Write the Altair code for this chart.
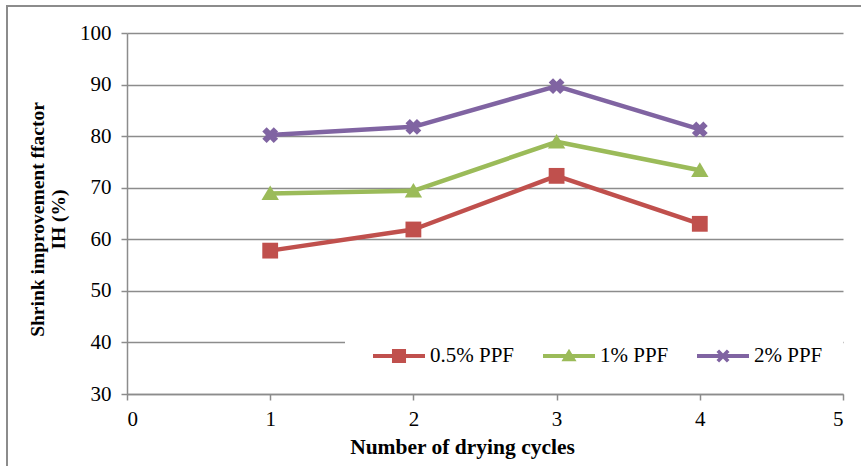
import altair as alt
import pandas as pd

# Shrink improvement factor IH (%) per drying cycle, one list per fibre dosage
cycles = [1, 2, 3, 4]
ppf_05 = [57.8, 61.9, 72.3, 63.0]
ppf_1 = [68.9, 69.4, 78.9, 73.4]
ppf_2 = [80.2, 81.8, 89.7, 81.3]

series_names = ["0.5% PPF", "1% PPF", "2% PPF"]
series_colors = ["#C0504D", "#9BBB59", "#8064A2"]
x_ticks = [0, 1, 2, 3, 4, 5]
y_ticks = [30, 40, 50, 60, 70, 80, 90, 100]

rows = []
for name, vals in zip(series_names, [ppf_05, ppf_1, ppf_2]):
    for c, v in zip(cycles, vals):
        rows.append({"cycle": c, "ih": v, "series": name})
df = pd.DataFrame(rows)

FONT = "Liberation Serif"

# marker glyphs (unit square -1..1)
square = "M-1,-1H1V1H-1Z"
triangle = "M0,-1L1.1,0.85H-1.1Z"
xcross = ("M-1,-0.45L-0.45,-1L1,0.45L0.45,1Z "
          "M0.45,-1L1,-0.45L-0.45,1L-1,0.45Z")

# legend glyphs: a line segment with the marker on top
bar = "M-1,-0.08H1V0.08H-1Z "
leg_square = bar + "M-0.27,-0.27H0.27V0.27H-0.27Z"
leg_triangle = bar + "M0,-0.28L0.29,0.2H-0.29Z"
leg_cross = bar + ("M-0.25,-0.15L-0.15,-0.25L0.25,0.15L0.15,0.25Z "
                   "M0.15,-0.25L0.25,-0.15L-0.15,0.25L-0.25,0.15Z")

color = alt.Color(
    "series:N",
    scale=alt.Scale(domain=series_names, range=series_colors),
    legend=None,
)
x_enc = alt.X(
    "cycle:Q",
    scale=alt.Scale(domain=[0, 5], nice=False),
    axis=alt.Axis(
        values=x_ticks, grid=False, title="Number of drying cycles",
        titleX=335, titleY=53, titleBaseline="middle", titleAlign="center",
        titleFontSize=21.5, labelPadding=8, tickSize=6,
    ),
)
y_enc = alt.Y(
    "ih:Q",
    scale=alt.Scale(domain=[30, 100], nice=False, zero=False),
    axis=alt.Axis(
        values=y_ticks, grid=True,
        title=["Shrink improvement ffactor", "IH (%)"],
        titleFontSize=19.5, titlePadding=11, titleY=186,
        labelPadding=10, tickSize=6,
    ),
)

base = alt.Chart(df)
one = alt.Chart(pd.DataFrame({"k": [0]}))

frame = one.mark_rect(fill=None, stroke="#8c8c8c", strokeWidth=2).encode(
    x=alt.value(-120), x2=alt.value(800), y=alt.value(-27), y2=alt.value(500)
)
legend_bg = one.mark_rect(fill="white").encode(
    x=alt.value(218), x2=alt.value(716), y=alt.value(302), y2=alt.value(346)
)

lines = base.mark_line(strokeWidth=4.5, strokeJoin="round").encode(
    x=x_enc, y=y_enc, color=color
)
points = base.mark_point(filled=True, opacity=1, size=250).encode(
    x=x_enc, y=y_enc, color=color,
    shape=alt.Shape(
        "series:N",
        scale=alt.Scale(domain=series_names, range=[square, triangle, xcross]),
        legend=None,
    ),
)
legend_layer = base.mark_point(filled=True, opacity=0).encode(
    x=x_enc, y=y_enc, color=color,
    shape=alt.Shape(
        "series:N",
        scale=alt.Scale(domain=series_names,
                        range=[leg_square, leg_triangle, leg_cross]),
        title=None,
        legend=alt.Legend(
            symbolFillColor=alt.ExprRef("scale('color', datum.value)"),
        ),
    ),
)

chart = (
    alt.layer(frame, legend_bg, lines, points, legend_layer)
    .resolve_scale(shape="independent")
    .properties(
        width=716, height=361,
        autosize=alt.AutoSizeParams(type="none"),
        padding={"left": 127, "top": 33, "right": 18, "bottom": 72},
        background="white",
    )
    .configure_view(stroke=None)
    .configure_axis(
        domainColor="#8c8c8c", domainWidth=1.5,
        tickColor="#8c8c8c", tickWidth=1.5,
        gridColor="#8c8c8c", gridWidth=1.5,
        labelFont=FONT, labelFontSize=21, labelColor="black",
        titleFont=FONT, titleFontWeight="bold", titleColor="black",
    )
    .configure_legend(
        orient="none", legendX=246, legendY=297, direction="horizontal",
        padding=0, symbolSize=2704, symbolStrokeWidth=0, symbolOpacity=1,
        labelFont=FONT, labelFontSize=21, labelColor="black",
        labelOffset=5, columnPadding=28,
    )
)

chart.save("out.html", embed_options={"renderer": "svg", "actions": False})
